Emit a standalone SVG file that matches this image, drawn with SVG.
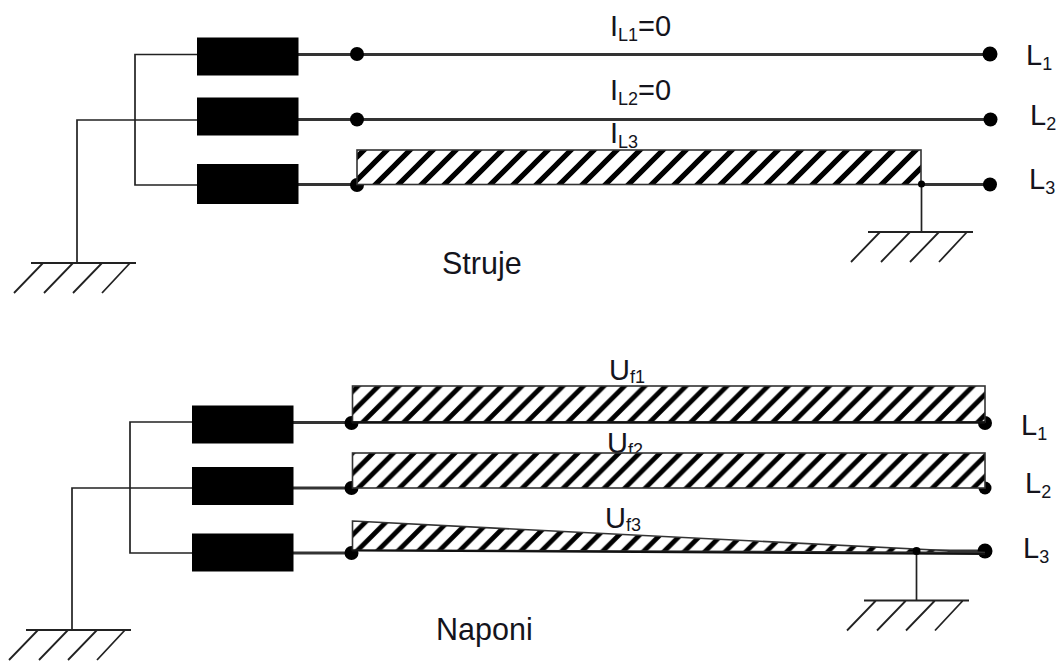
<svg xmlns="http://www.w3.org/2000/svg" width="1060" height="661" viewBox="0 0 1060 661">
<style>
text{font-family:"Liberation Sans",Arial,sans-serif;font-size:29px;fill:#14141c}
.s{font-size:18px}
.c{font-size:30.500px}
.w{fill:none;stroke:#222;stroke-width:1.7}
.t{fill:none;stroke:#333;stroke-width:3}
.b{fill:#000}
.h{stroke:#333;stroke-width:1.6}
.g{fill:none;stroke:#222;stroke-width:1.8}
</style>
<defs>
<pattern id="hatchA" patternUnits="userSpaceOnUse" width="23" height="23" x="5" y="3">
<rect width="23" height="23" fill="#fff"/>
<path d="M-5 5L5 -5M-5 28L28 -5M18 28L28 18" stroke="#000" stroke-width="5.200" fill="none"/>
</pattern>
<pattern id="hatchB" patternUnits="userSpaceOnUse" width="20.500" height="20.500" x="4" y="2">
<rect width="20.500" height="20.500" fill="#fff"/>
<path d="M-5 5L5 -5M-5 25.500L25.500 -5M15.500 25.500L25.500 15.500" stroke="#000" stroke-width="4.800" fill="none"/>
</pattern>
<g id="ground"><path class="g" d="M0 0H105M12 0L-17 30M42 0L13 30M71 0L42 30M99 0L71 30"/></g>
</defs>
<rect width="1060" height="661" fill="#fff"/>
<g id="connectors">
<path class="w" d="M197 54.500H135V185H197M197 120H77V263"/>
<path class="t" d="M298 54.500H990M298 119.500H990M298 184.500H357M921 184.500H990"/>
<path class="w" d="M921.500 184V232"/>
<path class="w" d="M192 422H130V553H192M192 488H72V630"/>
<path class="t" d="M293 422.500H351M293 488H351M293 553H351M916 551H985"/>
<path class="w" d="M916.500 551V600"/>
</g>
<g id="ground-1"><use href="#ground" x="31" y="263"/></g>
<g id="ground-2"><use href="#ground" x="868" y="232"/></g>
<g id="ground-3"><use href="#ground" x="26" y="630"/></g>
<g id="ground-4"><use href="#ground" x="864" y="600.500"/></g>
<g id="breaker-s1"><rect class="b" x="197" y="37.500" width="101.500" height="38"/></g>
<g id="breaker-s2"><rect class="b" x="197" y="97.500" width="101.500" height="38"/></g>
<g id="breaker-s3"><rect class="b" x="197" y="164" width="101.500" height="40"/></g>
<g id="breaker-n1"><rect class="b" x="192" y="405.500" width="101.500" height="38"/></g>
<g id="breaker-n2"><rect class="b" x="192" y="467" width="101.500" height="38"/></g>
<g id="breaker-n3"><rect class="b" x="192" y="533.500" width="101.500" height="38"/></g>
<g id="dots">
<circle class="b" cx="357" cy="54" r="7"/><circle class="b" cx="990" cy="54" r="7.500"/>
<circle class="b" cx="357" cy="119.500" r="7"/><circle class="b" cx="990.500" cy="119.500" r="7"/>
<circle class="b" cx="357" cy="185" r="7"/><circle class="b" cx="990" cy="184.500" r="7"/>
<circle class="b" cx="351.500" cy="423" r="7"/><circle class="b" cx="985" cy="423" r="7"/>
<circle class="b" cx="351.500" cy="488" r="7"/><circle class="b" cx="985" cy="488" r="6.500"/>
<circle class="b" cx="351.500" cy="553" r="7"/><circle class="b" cx="985" cy="551" r="7.500"/>
</g>
<g id="labels">
<text x="610" y="36">I<tspan class="s" dy="4.500">L1</tspan><tspan dy="-4.500">=0</tspan></text>
<text x="610" y="100">I<tspan class="s" dy="4.500">L2</tspan><tspan dy="-4.500">=0</tspan></text>
<text x="610" y="143">I<tspan class="s" dy="4.500">L3</tspan></text>
<text x="1026" y="65">L<tspan class="s" dy="5">1</tspan></text>
<text x="1030" y="125">L<tspan class="s" dy="5">2</tspan></text>
<text x="1029" y="189">L<tspan class="s" dy="5">3</tspan></text>
<text class="c" x="442" y="274">Struje</text>
<text x="609" y="380">U<tspan class="s" dy="3">f1</tspan></text>
<text x="607" y="452.500">U<tspan class="s" dy="3">f2</tspan></text>
<text x="605" y="528">U<tspan class="s" dy="3">f3</tspan></text>
<text x="1021" y="435">L<tspan class="s" dy="4.500">1</tspan></text>
<text x="1025" y="493">L<tspan class="s" dy="5">2</tspan></text>
<text x="1023" y="558">L<tspan class="s" dy="5">3</tspan></text>
<text class="c" x="436" y="640">Naponi</text>
</g>
<g id="hatch-il3"><rect x="357" y="150" width="564" height="34.500" fill="url(#hatchA)" class="h"/></g>
<g id="hatch-uf1"><rect x="352.500" y="386" width="632.500" height="36" fill="url(#hatchB)" class="h"/><path d="M352 422.500H985" stroke="#111" stroke-width="2.500"/></g>
<g id="hatch-uf2"><rect x="352.500" y="453" width="632.500" height="35" fill="url(#hatchB)" class="h"/></g>
<g id="hatch-uf3"><path d="M352.500 521L985 552.500L352.500 550Z" fill="url(#hatchB)" class="h"/><path d="M352 550.500L985 554" stroke="#111" stroke-width="2"/></g>
<g id="junctions">
<circle class="b" cx="921.500" cy="184" r="3.500"/>
<circle class="b" cx="916.500" cy="551" r="4"/>
</g>
</svg>
